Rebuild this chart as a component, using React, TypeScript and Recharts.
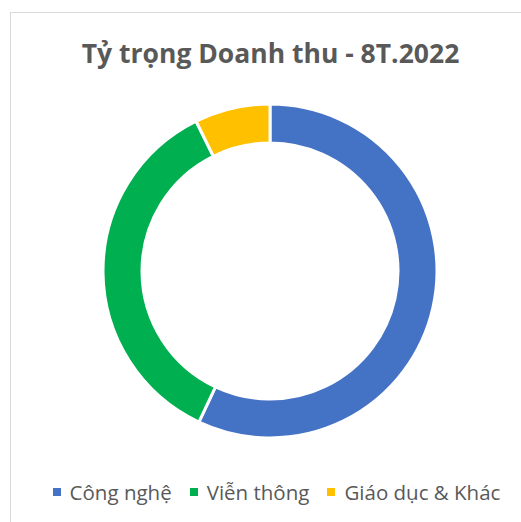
import React from "react";
import { PieChart, Pie, Cell } from "recharts";

// Revenue share, first 8 months of 2022 (percent)
const categories = ["Công nghệ", "Viễn thông", "Giáo dục & Khác"];
const shares = [57.0, 35.7, 7.3];
const COLORS = ["#4472C4", "#00B050", "#FFC000"];

const data = categories.map((name, i) => ({ name, value: shares[i] }));

const FONT = "'Open Sans', 'Noto Sans', sans-serif";

const App: React.FC = () => {
  return (
    <div style={{ position: "absolute", left: 0, top: 0, width: 521, height: 522, overflow: "hidden", background: "#fff" }}>
      {/* chart frame */}
      <div style={{ position: "absolute", left: 10, top: 12, width: 540, height: 540, border: "1.5px solid #d9d9d9" }} />
      <div
        style={{
          position: "absolute",
          left: 10,
          top: 33,
          width: 521,
          textAlign: "center",
          fontFamily: FONT,
          fontWeight: 700,
          fontSize: 26.5,
          lineHeight: "40px",
          color: "#595959",
        }}
      >
        Tỷ trọng Doanh thu - 8T.2022
      </div>
      <div style={{ position: "absolute", left: 0, top: 0 }}>
        <PieChart width={521} height={522} margin={{ top: 0, right: 0, bottom: 0, left: 0 }}>
          <Pie
            data={data}
            dataKey="value"
            nameKey="name"
            cx={270}
            cy={271}
            innerRadius={128}
            outerRadius={167}
            startAngle={90}
            endAngle={-270}
            stroke="#ffffff"
            strokeWidth={3}
            isAnimationActive={false}
          >
            {data.map((entry, index) => (
              <Cell key={`cell-${index}`} fill={COLORS[index]} />
            ))}
          </Pie>
        </PieChart>
      </div>
      {/* legend */}
      <div
        style={{
          position: "absolute",
          left: 16,
          top: 478,
          width: 521,
          height: 28,
          display: "flex",
          justifyContent: "center",
          alignItems: "center",
          fontFamily: FONT,
          fontSize: 20.5,
          color: "#595959",
        }}
      >
        {categories.map((name, i) => (
          <div key={name} style={{ display: "flex", alignItems: "center", marginRight: i < categories.length - 1 ? 18 : 0 }}>
            <span style={{ width: 8, height: 8, background: COLORS[i], display: "inline-block", marginRight: 9 }} />
            <span>{name}</span>
          </div>
        ))}
      </div>
    </div>
  );
};

export default App;
